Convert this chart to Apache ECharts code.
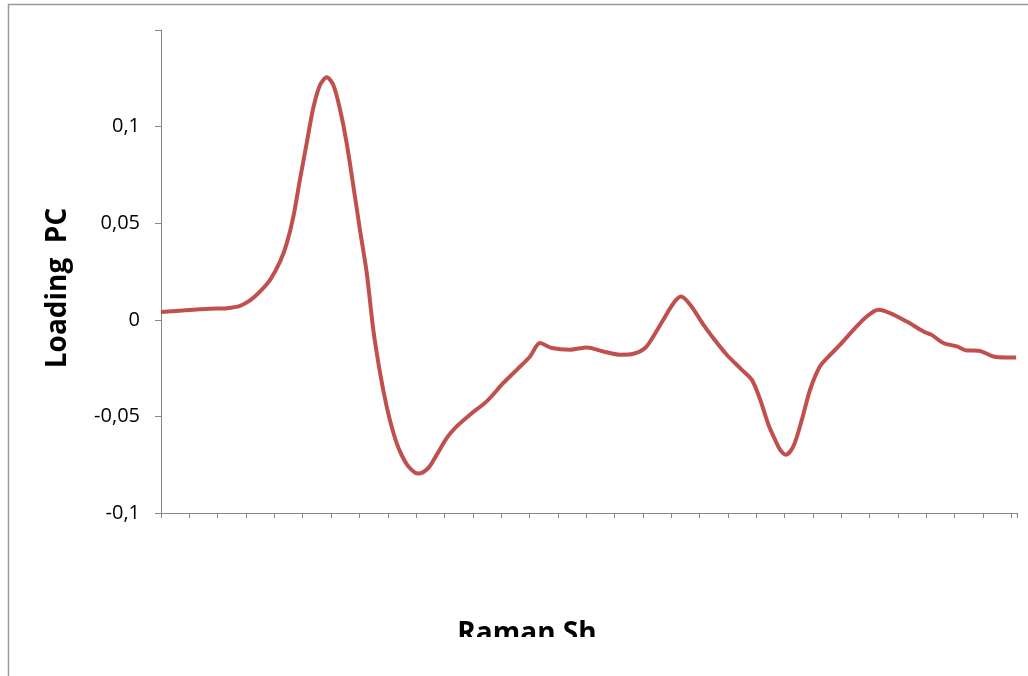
<!DOCTYPE html>
<html>
<head>
<meta charset="utf-8">
<script src="https://cdn.jsdelivr.net/npm/echarts@6/dist/echarts.min.js"></script>
<style>
  html, body { margin: 0; padding: 0; background: #fff; }
  #main { width: 1028px; height: 676px; }
</style>
</head>
<body>
<div id="main"></div>
<script>
// index of the spectrum point (0..302) and its loading value
var shiftIdx = [0, 6.7, 17.3, 23.2, 27.9, 31.4, 34.9, 38.5, 42.0, 44.4, 46.7, 49.0, 51.4, 53.7, 56.1, 58.5,
  60.8, 63.2, 65.5, 67.9, 70.2, 72.6, 74.9, 77.3, 79.6, 82.0, 84.3, 87.3, 90.8, 94.3, 97.3, 100.8,
  104.3, 109.0, 114.9, 120.8, 125.5, 130.2, 133.7, 137.9, 144.3, 150.2, 156.1, 162.0, 166.7, 170.8,
  173.7, 177.2, 180.8, 183.5, 186.7, 191.4, 194.9, 199.6, 204.3, 208.4, 211.4, 214.3, 216.1, 218.4,
  220.5, 223.1, 226.1, 229.0, 232.5, 236.1, 239.6, 244.3, 249.0, 253.1, 257.2, 263.1, 269.0, 271.9,
  276.0, 280.8, 284.3, 288.4, 293.7, 298.4, 301.7];
var loading = [0.0040, 0.0047, 0.0057, 0.0060, 0.0072, 0.0100, 0.0146, 0.0207, 0.0301, 0.0397, 0.0534, 0.0724, 0.0914, 0.1095, 0.1215, 0.1255,
  0.1215, 0.1086, 0.0914, 0.0689, 0.0465, 0.0241, -0.0052, -0.0276, -0.0448, -0.0586, -0.0681, -0.0759, -0.0796, -0.0767, -0.0698, -0.0612,
  -0.0552, -0.0491, -0.0422, -0.0327, -0.0259, -0.0190, -0.0120, -0.0146, -0.0155, -0.0143, -0.0164, -0.0181, -0.0176, -0.0146,
  -0.0086, 0.0000, 0.0086, 0.0120, 0.0078, -0.0026, -0.0095, -0.0181, -0.0250, -0.0310, -0.0414, -0.0543, -0.0603, -0.0672,
  -0.0698, -0.0655, -0.0517, -0.0362, -0.0241, -0.0181, -0.0129, -0.0052, 0.0017, 0.0052, 0.0035, -0.0009, -0.0060, -0.0078,
  -0.0120, -0.0138, -0.0159, -0.0160, -0.0190, -0.0195, -0.0195];
var yLabels = ['-0,1', '-0,05', '0', '0,05', '0,1', ''];

var points = shiftIdx.map(function (x, i) { return [x, loading[i]]; });

var myChart = echarts.init(document.getElementById('main'));
var axisGray = '#868686';
var option = {
  animation: false,
  grid: { left: 161, right: 11, top: 30, bottom: 163 },
  xAxis: {
    type: 'value',
    min: 0, max: 302, interval: 10,
    axisLine: { show: true, onZero: false, lineStyle: { color: axisGray, width: 1 } },
    axisTick: { show: true, inside: false, length: 5, lineStyle: { color: axisGray } },
    axisLabel: { show: false },
    splitLine: { show: false }
  },
  yAxis: {
    type: 'value',
    min: -0.1, max: 0.15, interval: 0.05,
    axisLine: { show: true, lineStyle: { color: axisGray, width: 1 } },
    axisTick: { show: true, inside: false, length: 6, lineStyle: { color: axisGray } },
    axisLabel: {
      margin: 21, color: '#000', fontSize: 20, fontFamily: 'Open Sans',
      formatter: function (v) { return yLabels[Math.round((v + 0.1) / 0.05)]; }
    },
    splitLine: { show: false }
  },
  series: [{
    type: 'line',
    data: points,
    smooth: 0.3,
    showSymbol: false,
    lineStyle: { color: '#C0504D', width: 4 }
  }],
  graphic: [
    { type: 'rect', shape: { x: 8.5, y: 4.5, width: 1200, height: 900 }, style: { fill: null, stroke: '#9a9a9a', lineWidth: 1.5 }, z: 100 },
    { type: 'text', x: 58, y: 288, rotation: Math.PI / 2,
      style: { text: 'Loading  PC', font: 'bold 28px "Open Sans"', fill: '#000', align: 'center', verticalAlign: 'middle' } },
    { type: 'text', x: 527, y: 620,
      style: { text: 'Raman Sh', font: 'bold 28px "Open Sans"', fill: '#000', align: 'center', verticalAlign: 'top' } },
    { type: 'rect', shape: { x: 300, y: 637, width: 500, height: 50 }, style: { fill: '#fff' }, z: 50 }
  ]
};
myChart.setOption(option);
</script>
</body>
</html>
